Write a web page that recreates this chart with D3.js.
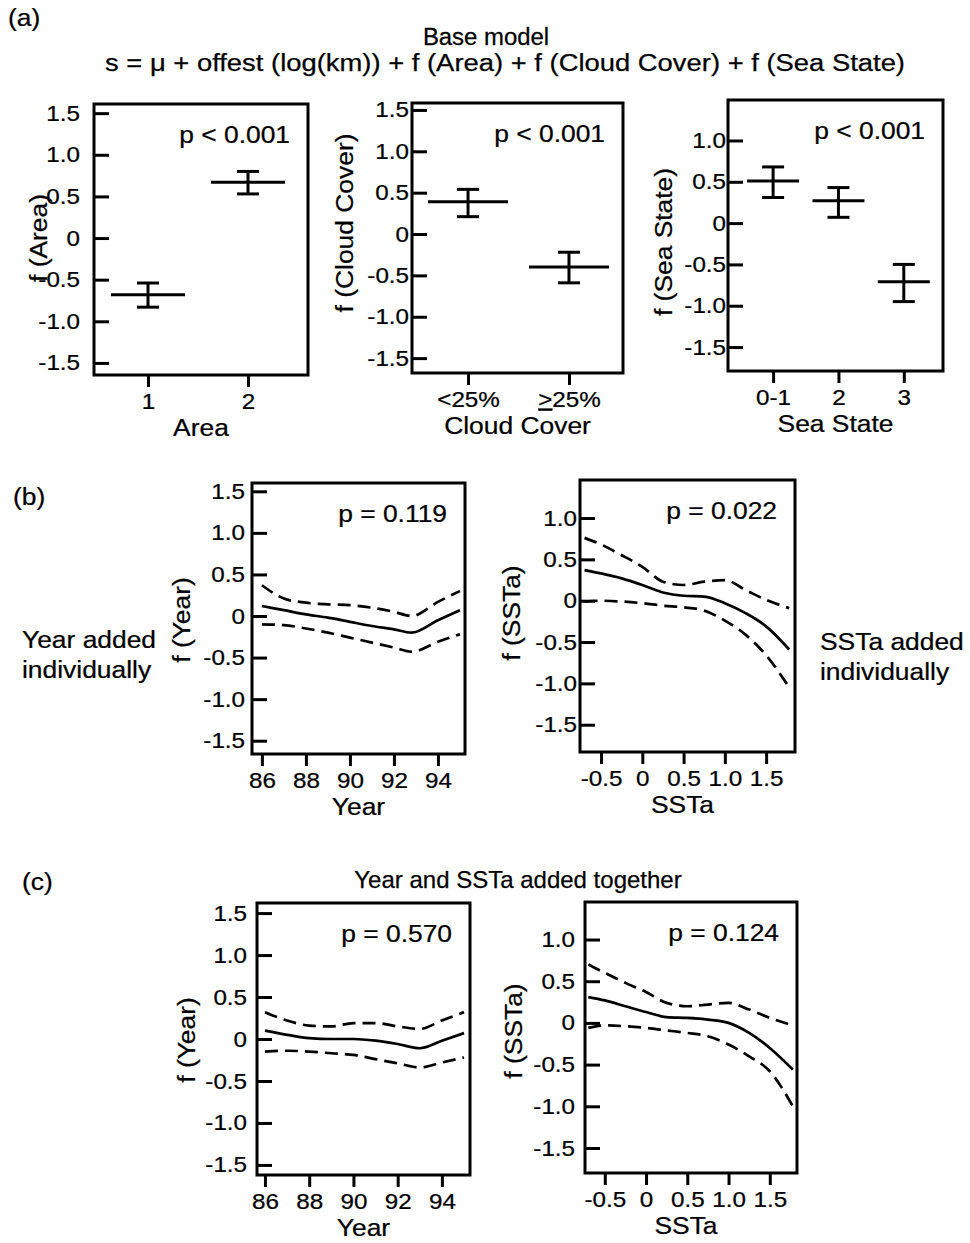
<!DOCTYPE html>
<html lang="en">
<head>
<meta charset="utf-8">
<title>GAM partial effects</title>
<script src="https://cdn.jsdelivr.net/npm/d3@7"></script>
<style>
  body { margin: 0; background: #fff; }
  svg text { font-family: "Liberation Sans", Arial, Helvetica, sans-serif; fill: #000; stroke: #000; stroke-width: 0.25px; }
</style>
</head>
<body>
<div id="viz"></div>
<script>
// DATA
// (a) base model, factor effects: estimate with upper / lower band
var areaCats = ["1", "2"];
var areaMean = [-0.68, 0.67];
var areaLo   = [-0.83, 0.53];
var areaHi   = [-0.54, 0.80];

var cloudCats = ["<25%", ">25%"];
var cloudMean = [0.39, -0.40];
var cloudLo   = [0.21, -0.59];
var cloudHi   = [0.54, -0.22];

var seaCats = ["0-1", "2", "3"];
var seaMean = [0.51, 0.27, -0.71];
var seaLo   = [0.31, 0.07, -0.95];
var seaHi   = [0.68, 0.43, -0.50];

// (b) added individually
var yearB      = [86, 87, 88, 89, 90, 91, 92, 92.8, 94, 95];
var yearBFit   = [0.12, 0.07, 0.02, -0.02, -0.07, -0.12, -0.16, -0.20, -0.05, 0.07];
var yearBUpper = [0.37, 0.21, 0.16, 0.14, 0.13, 0.10, 0.05, 0.00, 0.17, 0.30];
var yearBLower = [-0.10, -0.11, -0.15, -0.20, -0.26, -0.32, -0.38, -0.43, -0.31, -0.22];

var sstaB      = [-0.7, -0.5, -0.25, 0, 0.25, 0.5, 0.75, 1.0, 1.25, 1.5, 1.78];
var sstaBFit   = [0.37, 0.33, 0.27, 0.19, 0.10, 0.06, 0.05, -0.03, -0.15, -0.31, -0.59];
var sstaBUpper = [0.76, 0.68, 0.55, 0.41, 0.23, 0.19, 0.23, 0.25, 0.13, 0.01, -0.09];
var sstaBLower = [-0.01, 0.00, -0.01, -0.03, -0.06, -0.08, -0.12, -0.24, -0.41, -0.66, -1.05];

// (c) added together
var yearC      = [86, 87, 88, 89, 90, 91, 92, 93, 94, 95];
var yearCFit   = [0.10, 0.05, 0.01, 0.00, 0.00, -0.02, -0.06, -0.11, -0.02, 0.07];
var yearCUpper = [0.32, 0.22, 0.16, 0.15, 0.19, 0.19, 0.15, 0.12, 0.22, 0.32];
var yearCLower = [-0.15, -0.14, -0.15, -0.17, -0.19, -0.24, -0.29, -0.34, -0.28, -0.22];

var sstaC      = [-0.7, -0.5, -0.25, 0, 0.25, 0.5, 0.75, 1.0, 1.25, 1.5, 1.78];
var sstaCFit   = [0.31, 0.27, 0.20, 0.13, 0.07, 0.06, 0.04, 0.00, -0.12, -0.30, -0.56];
var sstaCUpper = [0.70, 0.60, 0.48, 0.37, 0.24, 0.20, 0.22, 0.24, 0.16, 0.06, -0.03];
var sstaCLower = [-0.06, -0.03, -0.04, -0.06, -0.09, -0.12, -0.16, -0.26, -0.40, -0.58, -1.00];

// TICKS
var yTicksFull  = [-1.5, -1, -0.5, 0, 0.5, 1, 1.5];
var yTicksShort = [-1.5, -1, -0.5, 0, 0.5, 1];
var yearTicks = [86, 88, 90, 92, 94];
var sstaTicks = [-0.5, 0, 0.5, 1, 1.5];

var pA1 = "p < 0.001", pA2 = "p < 0.001", pA3 = "p < 0.001";
var pB1 = "p = 0.119", pB2 = "p = 0.022";
var pC1 = "p = 0.570", pC2 = "p = 0.124";

// DRAWING AREA
var W = 970, H = 1243;
var SX = 1.1;   // the scanned lettering is a little wider than Arial
var svg = d3.select("#viz").append("svg")
  .attr("width", W).attr("height", H)
  .attr("viewBox", "0 0 " + W + " " + H);

// plain hyphen for negatives, "0" without decimals
var fmtY = function(d) { return d === 0 ? "0" : d3.format(".1f")(d).replace("\u2212", "-"); };

function styleAxis(a) {
  a.select(".domain").remove();
  a.selectAll("line").attr("stroke", "#000").attr("stroke-width", 3);
  a.selectAll("text")
    .attr("font-size", 22).attr("font-family", null).attr("fill", "#000")
    .attr("transform", "scale(" + SX + ",1)");
}

// one framed panel: box, inward y ticks, outward x ticks, titles
function frame(p) {
  var x = d3.scaleLinear().domain(p.xDomain).range([p.left, p.right]);
  var y = d3.scaleLinear().domain(p.yDomain).range([p.bottom, p.top]);
  var g = svg.append("g");

  g.append("g")
    .attr("transform", "translate(" + p.left + ",0)")
    .call(d3.axisLeft(y).tickValues(p.yTicks).tickFormat(fmtY)
      .tickSizeInner(-15).tickSizeOuter(0).tickPadding(p.labelPad / SX))
    .call(styleAxis);

  g.append("g")
    .attr("class", "xaxis")
    .attr("transform", "translate(0," + p.bottom + ")")
    .call(d3.axisBottom(x).tickValues(p.xTicks).tickFormat(p.xFormat)
      .tickSizeInner(12).tickSizeOuter(0).tickPadding(6))
    .call(styleAxis);

  g.append("rect")
    .attr("x", p.left).attr("y", p.top)
    .attr("width", p.right - p.left).attr("height", p.bottom - p.top)
    .attr("fill", "none").attr("stroke", "#000").attr("stroke-width", 3);

  g.append("text")
    .attr("transform", "translate(" + (p.left - p.yTitleOff) + "," + p.yTitleY + ") rotate(-90) scale(" + SX + ",1)")
    .attr("text-anchor", "middle").attr("dy", "0.35em")
    .attr("font-size", 24)
    .text(p.yTitle);

  g.append("text")
    .attr("transform", "translate(" + ((p.left + p.right) / 2 + (p.xTitleShift || 0)) + "," + (p.bottom + 61) + ") scale(" + SX + ",1)")
    .attr("text-anchor", "middle").attr("font-size", 24)
    .text(p.xTitle);

  g.append("text")
    .attr("transform", "translate(" + (p.right - 18) + "," + (p.top + 39) + ") scale(" + SX + ",1)")
    .attr("text-anchor", "end").attr("font-size", 24)
    .text(p.pText);

  return { g: g, x: x, y: y };
}

function errorBars(f, mean, lo, hi, half, cap) {
  var gb = f.g.append("g")
    .attr("stroke", "#000").attr("stroke-width", 3).attr("fill", "none");
  mean.forEach(function(m, i) {
    var cx = f.x(i + 1);
    gb.append("line").attr("x1", cx).attr("x2", cx).attr("y1", f.y(lo[i])).attr("y2", f.y(hi[i]));
    gb.append("line").attr("x1", cx - cap).attr("x2", cx + cap).attr("y1", f.y(lo[i])).attr("y2", f.y(lo[i]));
    gb.append("line").attr("x1", cx - cap).attr("x2", cx + cap).attr("y1", f.y(hi[i])).attr("y2", f.y(hi[i]));
    gb.append("line").attr("x1", cx - half).attr("x2", cx + half).attr("y1", f.y(m)).attr("y2", f.y(m));
  });
}

function curves(f, xs, fit, up, lo) {
  var line = d3.line()
    .x(function(d) { return f.x(d[0]); })
    .y(function(d) { return f.y(d[1]); })
    .curve(d3.curveMonotoneX);
  [[fit, null], [up, "13,7"], [lo, "13,7"]].forEach(function(s) {
    f.g.append("path")
      .datum(xs.map(function(v, i) { return [v, s[0][i]]; }))
      .attr("d", line)
      .attr("fill", "none").attr("stroke", "#000").attr("stroke-width", 2.7)
      .attr("stroke-dasharray", s[1]);
  });
}

function catFormat(cats) { return function(d) { return cats[d - 1]; }; }

// (a) ----------------------------------------------------------
var fA1 = frame({ left: 94, right: 308, top: 104, bottom: 375,
  yDomain: [-1.645, 1.61], yTicks: yTicksFull, labelPad: 14,
  xDomain: [0.46, 2.6], xTicks: [1, 2], xFormat: catFormat(areaCats),
  yTitle: "f (Area)", yTitleOff: 55, yTitleY: 238, xTitle: "Area", pText: pA1 });
errorBars(fA1, areaMean, areaLo, areaHi, 37, 11);

var fA2 = frame({ left: 412, right: 623, top: 103, bottom: 373,
  yDomain: [-1.68, 1.584], yTicks: yTicksFull, labelPad: 3,
  xDomain: [0.445, 2.535], xTicks: [1, 2], xFormat: catFormat(cloudCats),
  yTitle: "f (Cloud Cover)", yTitleOff: 67, yTitleY: 223, xTitle: "Cloud Cover", pText: pA2 });
errorBars(fA2, cloudMean, cloudLo, cloudHi, 40, 11);
// the second class reads ">25%" with the ">" underlined
fA2.g.select(".xaxis").selectAll(".tick text").each(function(d) {
  if (d !== 2) return;
  var t = d3.select(this).text("");
  t.append("tspan").attr("text-decoration", "underline").text(">");
  t.append("tspan").text("25%");
});

var fA3 = frame({ left: 728, right: 943, top: 100, bottom: 371,
  yDomain: [-1.79, 1.49], yTicks: yTicksShort, labelPad: 2,
  xDomain: [0.31, 3.6], xTicks: [1, 2, 3], xFormat: catFormat(seaCats),
  yTitle: "f (Sea State)", yTitleOff: 64, yTitleY: 242, xTitle: "Sea State", pText: pA3 });
errorBars(fA3, seaMean, seaLo, seaHi, 26, 11);

// (b) ----------------------------------------------------------
var fB1 = frame({ left: 252, right: 465, top: 483, bottom: 754,
  yDomain: [-1.66, 1.60], yTicks: yTicksFull, labelPad: 7,
  xDomain: [85.55, 95.23], xTicks: yearTicks, xFormat: d3.format("d"),
  yTitle: "f (Year)", yTitleOff: 70, yTitleY: 620, xTitle: "Year", pText: pB1 });
curves(fB1, yearB, yearBFit, yearBUpper, yearBLower);

var fB2 = frame({ left: 580, right: 795, top: 480, bottom: 752,
  yDomain: [-1.83, 1.46], yTicks: yTicksShort, labelPad: 3,
  xDomain: [-0.755, 1.85], xTicks: sstaTicks, xFormat: fmtY,
  yTitle: "f (SSTa)", yTitleOff: 68, yTitleY: 613, xTitle: "SSTa", xTitleShift: -5, pText: pB2 });
curves(fB2, sstaB, sstaBFit, sstaBUpper, sstaBLower);

// (c) ----------------------------------------------------------
var fC1 = frame({ left: 257, right: 470, top: 903, bottom: 1175,
  yDomain: [-1.62, 1.62], yTicks: yTicksFull, labelPad: 10,
  xDomain: [85.64, 95.27], xTicks: yearTicks, xFormat: d3.format("d"),
  yTitle: "f (Year)", yTitleOff: 70, yTitleY: 1040, xTitle: "Year", pText: pC1 });
curves(fC1, yearC, yearCFit, yearCUpper, yearCLower);

var fC2 = frame({ left: 585, right: 797, top: 902, bottom: 1173,
  yDomain: [-1.80, 1.45], yTicks: yTicksShort, labelPad: 10,
  xDomain: [-0.74, 1.83], xTicks: sstaTicks, xFormat: fmtY,
  yTitle: "f (SSTa)", yTitleOff: 71, yTitleY: 1031, xTitle: "SSTa", xTitleShift: -5, pText: pC2 });
curves(fC2, sstaC, sstaCFit, sstaCUpper, sstaCLower);

// LABELS
function label(x, y, s, anchor, sx, size) {
  return svg.append("text")
    .attr("transform", "translate(" + x + "," + y + ") scale(" + (sx || SX) + ",1)")
    .attr("text-anchor", anchor || "start").attr("font-size", size || 24).text(s);
}
label(8, 26, "(a)");
label(486, 45, "Base model", "middle", 1.04, 23);
label(505, 71, "s = \u03bc + offest (log(km)) + f (Area) + f (Cloud Cover) + f (Sea State)", "middle", 1, 23)
  .attr("textLength", 800).attr("lengthAdjust", "spacingAndGlyphs");
label(13, 505, "(b)");
label(22, 648, "Year added");
label(22, 678, "individually");
label(820, 650, "SSTa added");
label(820, 680, "individually");
label(22, 890, "(c)");
label(518, 888, "Year and SSTa added together", "middle", 1);
</script>
</body>
</html>
